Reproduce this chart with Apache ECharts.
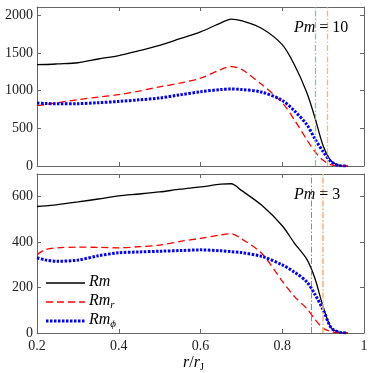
<!DOCTYPE html>
<html>
<head>
<meta charset="utf-8">
<script src="https://cdn.jsdelivr.net/npm/echarts@6/dist/echarts.min.js"></script>
<style>
  html, body { margin: 0; padding: 0; background: #fff; }
  #chart { width: 373px; height: 373px; }
</style>
</head>
<body>
<div id="chart"></div>
<script>
// radius r / r_J
const radius = [0.2, 0.22, 0.25, 0.3, 0.35, 0.4, 0.45, 0.5, 0.55, 0.6, 0.65, 0.675, 0.7, 0.75, 0.8, 0.83, 0.86, 0.88, 0.9, 0.92, 0.94, 0.96];

// Pm = 10
const rmTop    = [1345, 1347, 1355, 1370, 1420, 1465, 1530, 1600, 1690, 1780, 1900, 1950, 1928, 1825, 1610, 1340, 975, 640, 270, 65, 8, 0];
const rmRTop   = [800, 815, 840, 880, 915, 947, 995, 1050, 1100, 1165, 1280, 1320, 1285, 1080, 840, 610, 350, 190, 75, 15, 2, 0];
const rmPhiTop = [836, 830, 825, 827, 840, 857, 878, 902, 945, 985, 1015, 1022, 1015, 980, 870, 730, 550, 360, 190, 55, 5, 0];

// Pm = 3
const rmBot    = [557, 560, 565, 577, 590, 604, 612, 621, 633, 643, 655, 657, 628, 562, 472, 395, 325, 240, 116, 22, 3, 0];
const rmRBot   = [345, 367, 375, 378, 377, 375, 380, 387, 403, 417, 432, 437, 415, 350, 228, 160, 108, 60, 21, 6, 1, 0];
const rmPhiBot = [331, 322, 316, 321, 340, 353, 357, 360, 363, 366, 362, 358, 354, 337, 300, 268, 225, 170, 102, 22, 4, 0];

const pmLines = [
    { panel: 0, r: 0.884, color: 'rgba(110,200,110,0.85)', width: 1.3 },
    { panel: 0, r: 0.906, color: 'rgba(250,170,90,0.85)', width: 1.3 },
    { panel: 1, r: 0.866, color: '#2ca02c', width: 0.8 },
    { panel: 1, r: 0.903, color: 'rgba(250,180,120,0.8)', width: 2 },
];

const serif = 'Liberation Serif';
const zip = (ys) => radius.map((r, i) => [r, ys[i]]);

const frame = '#666';
const chart = echarts.init(document.getElementById('chart'));

const xAxisBase = (gridIndex, position, labels) => ({
    type: 'value', gridIndex, position, min: 0.2, max: 1, interval: 0.2,
    axisLine: { show: true, onZero: false, lineStyle: { color: frame, width: 1 } },
    axisTick: { show: true, inside: true, length: 4, lineStyle: { color: frame } },
    axisLabel: { show: labels, color: '#222', fontFamily: serif, fontSize: 14, margin: 6 },
    splitLine: { show: false }
});
const yAxisBase = (gridIndex, position, labels, max, interval) => ({
    type: 'value', gridIndex, position, min: 0, max, interval,
    axisLine: { show: true, onZero: false, lineStyle: { color: frame, width: 1 } },
    axisTick: { show: true, inside: true, length: 4, lineStyle: { color: frame } },
    axisLabel: { show: labels, showMaxLabel: false, color: '#222', fontFamily: serif, fontSize: 14, margin: 4,
        formatter: (v) => String(v) },
    splitLine: { show: false }
});

const rich = {
    i: { fontFamily: serif, fontStyle: 'italic', fontSize: 16, color: '#111' },
    s: { fontFamily: serif, fontStyle: 'italic', fontSize: 11, color: '#111', padding: [9, 0, 0, 0] },
    n: { fontFamily: serif, fontSize: 16, color: '#111' },
    j: { fontFamily: serif, fontSize: 10, color: '#111', padding: [8, 0, 0, 0] }
};

const makeSeries = (name, data, idx, style) => ({
    name, type: 'line', data: zip(data), xAxisIndex: idx, yAxisIndex: idx,
    showSymbol: false, symbol: 'none', smooth: 0.3, lineStyle: style, z: 3
});

const blackStyle = { color: '#000', width: 1.3 };
const redStyle = { color: '#ff0000', width: 1.3, type: [7, 4] };
const blueStyle = { color: '#0000ff', width: 3, type: [2.5, 1.5] };

const series = [
    makeSeries('Rm', rmTop, 0, blackStyle),
    makeSeries('Rm_r', rmRTop, 0, redStyle),
    makeSeries('Rm_phi', rmPhiTop, 0, blueStyle),
    makeSeries('Rm', rmBot, 1, blackStyle),
    makeSeries('Rm_r', rmRBot, 1, redStyle),
    makeSeries('Rm_phi', rmPhiBot, 1, blueStyle),
];
pmLines.forEach(l => {
    series.push({
        type: 'line', data: [], xAxisIndex: l.panel, yAxisIndex: l.panel, z: 2,
        markLine: {
            silent: true, symbol: 'none', label: { show: false },
            lineStyle: { color: l.color, width: l.width, type: [6, 2, 1.5, 2] },
            data: [{ xAxis: l.r }]
        }
    });
});

// legend drawn by hand (line samples + labels)
const legendItems = [
    { style: blackStyle, text: '{i|Rm}', y: 283 },
    { style: redStyle, text: '{i|Rm}{s|r}', y: 302 },
    { style: blueStyle, text: '{i|Rm}{s|ϕ}', y: 321 }
];
const legendGraphics = [];
legendItems.forEach(it => {
    legendGraphics.push({
        type: 'line', z: 10, shape: { x1: 46, y1: it.y, x2: 85, y2: it.y },
        style: { stroke: it.style.color, lineWidth: it.style.width, lineDash: Array.isArray(it.style.type) ? it.style.type : null }
    });
    legendGraphics.push({
        type: 'text', z: 10, left: 89, top: it.y - 9, style: { text: it.text, rich }
    });
});

chart.setOption({
    animation: false,
    backgroundColor: '#fff',
    grid: [
        { left: 37, right: 9, top: 7, height: 159 },
        { left: 37, right: 9, top: 174, height: 159 }
    ],
    xAxis: [
        xAxisBase(0, 'bottom', false),
        xAxisBase(1, 'bottom', true),
        xAxisBase(0, 'top', false),
        xAxisBase(1, 'top', false)
    ],
    yAxis: [
        yAxisBase(0, 'left', true, 2110, 500),
        yAxisBase(1, 'left', true, 700, 200),
        yAxisBase(0, 'right', false, 2110, 500),
        yAxisBase(1, 'right', false, 700, 200)
    ],
    series,
    graphic: [
        { type: 'text', left: 294, top: 20, z: 10, style: { text: '{i|Pm}{n| = 10}', rich } },
        { type: 'text', left: 294, top: 187, z: 10, style: { text: '{i|Pm}{n| = 3}', rich } },
        { type: 'text', left: 183, top: 355, z: 10, style: { text: '{i|r}{n|/}{i|r}{j|J}', rich } }
    ].concat(legendGraphics)
});
</script>
</body>
</html>
